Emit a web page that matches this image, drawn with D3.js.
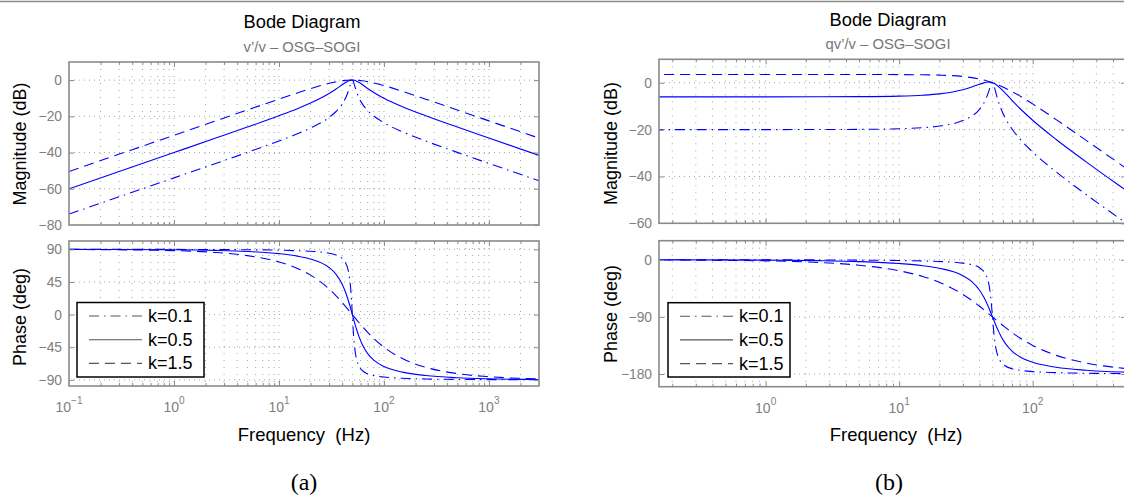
<!DOCTYPE html>
<html><head><meta charset="utf-8">
<script src="https://cdn.jsdelivr.net/npm/d3@7"></script>
<style>body{margin:0;background:#fff}svg{display:block;font-family:"Liberation Sans",Arial,Helvetica,sans-serif}</style>
</head><body><svg id="c" width="1124" height="499"></svg>
<script>
// ---- data ----
const freqHz = [0.1,1,2.5,5,10,15,20,30,35,40,43,45,47,48,49,50,51,52,53,55,58,62,70,80,100,150,250,500,1000,3000];
const kLabels = ["k=0.1","k=0.5","k=1.5"];

// (a) v'/v magnitude (dB)
const magA_k01 = [-73.98,-53.98,-46.00,-39.91,-33.63,-29.64,-26.45,-20.60,-17.33,-13.27,-10.07,-7.37,-4.04,-2.22,-0.66,0,-0.63,-2.08,-3.73,-6.67,-9.95,-12.97,-16.81,-19.83,-23.54,-28.53,-33.63,-39.91,-46.00,-55.56];
const magA_k05 = [-60.00,-40.00,-32.02,-25.94,-19.69,-15.78,-12.70,-7.44,-4.95,-2.58,-1.36,-0.71,-0.26,-0.11,-0.03,0,-0.03,-0.11,-0.23,-0.59,-1.32,-2.44,-4.60,-6.81,-10.00,-14.69,-19.69,-25.94,-32.02,-41.58];
const magA_k15 = [-50.46,-30.46,-22.50,-16.49,-10.51,-7.07,-4.71,-1.78,-0.92,-0.37,-0.17,-0.09,-0.03,-0.01,0,0,0,-0.01,-0.03,-0.07,-0.17,-0.35,-0.82,-1.53,-3.01,-6.19,-10.51,-16.49,-22.50,-32.04];
// (a) v'/v phase (deg)
const phaseA_k01 = [89.99,89.89,89.71,89.42,88.81,88.11,87.27,84.64,82.19,77.47,71.73,64.65,51.08,39.23,22.00,0,-21.61,-38.12,-49.38,-62.35,-71.44,-77.01,-81.70,-84.14,-86.19,-87.85,-88.81,-89.42,-89.71,-89.90];
const phaseA_k05 = [89.94,89.43,88.56,87.11,84.05,80.64,76.61,64.89,55.54,41.99,31.20,22.89,13.91,9.28,4.62,0,-4.53,-8.92,-13.13,-20.90,-30.79,-40.92,-53.90,-62.85,-71.57,-79.38,-84.05,-87.11,-88.56,-89.52];
const phaseA_k15 = [89.83,88.28,85.70,81.38,72.65,63.69,54.46,35.42,25.91,16.70,11.41,8.01,4.72,3.12,1.54,0,-1.51,-2.99,-4.44,-7.25,-11.23,-16.12,-24.57,-33.02,-45.00,-60.64,-72.65,-81.38,-85.70,-88.57];

// (b) qv'/v magnitude (dB)
const magB_k01 = [-20.00,-20.00,-19.98,-19.91,-19.65,-19.18,-18.50,-16.16,-14.23,-11.34,-8.76,-6.45,-3.50,-1.87,-0.48,0,-0.81,-2.42,-4.24,-7.50,-11.24,-14.83,-19.74,-23.91,-29.56,-38.07,-47.61,-59.91,-72.02,-91.12];
const magB_k05 = [-6.02,-6.02,-6.00,-5.94,-5.71,-5.32,-4.75,-3.01,-1.85,-0.64,-0.05,0.20,0.28,0.24,0.15,0,-0.20,-0.45,-0.74,-1.42,-2.61,-4.30,-7.52,-10.90,-16.02,-24.23,-33.67,-45.94,-58.04,-77.14];
const magB_k15 = [3.52,3.52,3.52,3.51,3.47,3.39,3.25,2.66,2.18,1.56,1.14,0.83,0.51,0.34,0.17,0,-0.18,-0.35,-0.53,-0.90,-1.46,-2.22,-3.75,-5.61,-9.03,-15.73,-24.49,-36.49,-48.52,-67.60];
// (b) qv'/v phase (deg)
const phaseB_k01 = [-0.01,-0.11,-0.29,-0.58,-1.19,-1.89,-2.73,-5.36,-7.81,-12.53,-18.27,-25.35,-38.92,-50.77,-68.00,-90,-111.61,-128.12,-139.38,-152.35,-161.44,-167.01,-171.70,-174.14,-176.19,-177.85,-178.81,-179.42,-179.71,-179.90];
const phaseB_k05 = [-0.06,-0.57,-1.44,-2.89,-5.95,-9.36,-13.39,-25.11,-34.46,-48.01,-58.80,-67.11,-76.09,-80.72,-85.38,-90,-94.53,-98.92,-103.13,-110.90,-120.79,-130.92,-143.90,-152.85,-161.57,-169.38,-174.05,-177.11,-178.56,-179.52];
const phaseB_k15 = [-0.17,-1.72,-4.30,-8.62,-17.35,-26.31,-35.54,-54.58,-64.09,-73.30,-78.59,-81.99,-85.28,-86.88,-88.46,-90,-91.51,-92.99,-94.44,-97.25,-101.23,-106.12,-114.57,-123.02,-135.00,-150.64,-162.65,-171.38,-175.70,-178.57];

// ticks
const xTicksA = [0.1,1,10,100,1000];
const xTicksB = [1,10,100];
const magTicksA = [0,-20,-40,-60,-80];
const phaseTicksA = [90,45,0,-45,-90];
const magTicksB = [0,-20,-40,-60];
const phaseTicksB = [0,-90,-180];

const titleText = "Bode Diagram";
const subtitleA = "v\u2019/v \u2013 OSG\u2013SOGI";
const subtitleB = "qv\u2019/v \u2013 OSG\u2013SOGI";
const xLabel = "Frequency\u00a0\u00a0(Hz)";
const captions = ["(a)","(b)"];

// ---- layout / style ----
const svg = d3.select("#c");
const FRAME = "#8a8a8a", TICKTXT = "#808080", BLUE = "#0000ff";
const dashes = ["10,5,1.5,5", null, "10,6"];

svg.append("line").attr("x1",0).attr("x2",1124).attr("y1",1.5).attr("y2",1.5)
  .attr("stroke","#8a8a8a").attr("stroke-width",1.5);

const fmtNum = v => (v < 0 ? "\u2212" + Math.abs(v) : String(v));
const expStr = v => { const e = Math.round(Math.log10(v)); return e < 0 ? "\u2212" + Math.abs(e) : String(e); };

let clipId = 0;
function subplot(g, x, xDomain, top, bottom, yDomain, yTicks, series, xTicks, showXLabels, legendBox) {
  const [x0, x1] = x.range();
  const y = d3.scaleLinear().domain(yDomain).range([bottom, top]);
  const id = "clip" + (clipId++);
  g.append("clipPath").attr("id", id).append("rect")
    .attr("x", x0).attr("y", top).attr("width", x1 - x0).attr("height", bottom - top);

  // grid
  const minor = [];
  for (let d = Math.floor(Math.log10(xDomain[0])); d <= Math.ceil(Math.log10(xDomain[1])); d++)
    for (let m = 1; m <= 9; m++) { const f = m * Math.pow(10, d); if (f > xDomain[0] && f < xDomain[1]) minor.push(f); }
  const grid = g.append("g").attr("clip-path", `url(#${id})`);
  grid.selectAll("line.v").data(minor).join("line")
    .attr("x1", d => x(d)).attr("x2", d => x(d)).attr("y1", top).attr("y2", bottom)
    .attr("stroke", "#9a9a9a").attr("stroke-width", 0.9).attr("stroke-dasharray", "1,6");
  grid.selectAll("line.h").data(yTicks).join("line")
    .attr("x1", x0).attr("x2", x1).attr("y1", d => y(d)).attr("y2", d => y(d))
    .attr("stroke", "#9a9a9a").attr("stroke-width", 0.9).attr("stroke-dasharray", "1,4");

  // curves
  const line = d3.line().x(d => x(d[0])).y(d => y(d[1])).curve(d3.curveMonotoneX);
  const cg = g.append("g").attr("clip-path", `url(#${id})`);
  series.forEach((s, i) => {
    cg.append("path").datum(freqHz.map((f, j) => [f, s[j]]))
      .attr("d", line).attr("fill", "none").attr("stroke", BLUE).attr("stroke-width", 1.1)
      .attr("stroke-dasharray", dashes[i]);
  });

  // ticks
  const styleAxis = a => { a.select(".domain").remove(); a.selectAll("line").attr("stroke", FRAME).attr("stroke-width", 1); };
  const majorX = minor.filter(f => Math.abs(Math.log10(f) - Math.round(Math.log10(f))) < 1e-9);
  const minorX = minor.filter(f => !majorX.includes(f));
  [[d3.axisBottom, bottom], [d3.axisTop, top]].forEach(([ax, yy]) => {
    g.append("g").attr("transform", `translate(0,${yy})`).call(ax(x).tickValues(minorX).tickSize(-3).tickFormat("")).call(styleAxis);
    g.append("g").attr("transform", `translate(0,${yy})`).call(ax(x).tickValues(majorX).tickSize(-5).tickFormat("")).call(styleAxis);
  });
  const yl = g.append("g").attr("transform", `translate(${x0},0)`)
    .call(d3.axisLeft(y).tickValues(yTicks).tickSize(-5).tickPadding(7).tickFormat(fmtNum)).call(styleAxis);
  yl.selectAll("text").attr("font-family", "Liberation Sans, Arial, sans-serif").attr("font-size", 13.8).attr("fill", TICKTXT);
  yl.selectAll(".tick").filter(d => Math.abs(y(d) - bottom) < 1 || Math.abs(y(d) - top) < 1).select("line").remove();
  g.append("g").attr("transform", `translate(${x1},0)`)
    .call(d3.axisRight(y).tickValues(yTicks).tickSize(-5).tickFormat("")).call(styleAxis);

  // frame
  g.append("rect").attr("x", x0).attr("y", top).attr("width", x1 - x0).attr("height", bottom - top)
    .attr("fill", "none").attr("stroke", FRAME).attr("stroke-width", 1.6);

  if (showXLabels) {
    const lab = g.append("g");
    xTicks.forEach(v => {
      const t = lab.append("text").attr("x", x(v)).attr("y", bottom + 26).attr("text-anchor", "middle")
        .attr("font-size", 14).attr("fill", TICKTXT);
      t.append("tspan").text("10");
      t.append("tspan").attr("dy", -8).attr("font-size", 10).text(expStr(v));
    });
  }

  if (legendBox) {
    const lg = g.append("g");
    lg.append("rect").attr("x", legendBox[0]).attr("y", legendBox[1]).attr("width", legendBox[2]).attr("height", legendBox[3])
      .attr("fill", "#fff").attr("stroke", "#000").attr("stroke-width", 1.5);
    kLabels.forEach((k, i) => {
      const by = legendBox[1] + 19.5 + i * 23.7;
      lg.append("line").attr("x1", legendBox[0] + 12).attr("x2", legendBox[0] + 65)
        .attr("y1", by - 6).attr("y2", by - 6).attr("stroke", "#555").attr("stroke-width", 1.1)
        .attr("stroke-dasharray", dashes[i]);
      lg.append("text").attr("x", legendBox[0] + 71).attr("y", by).attr("font-size", 18).attr("fill", "#000").text(k);
    });
  }
  return y;
}

function panel(cfg) {
  const g = svg.append("g");
  const x = d3.scaleLog().domain(cfg.xDomain).range([cfg.x0, cfg.x1]);
  subplot(g, x, cfg.xDomain, cfg.magTop, cfg.magBottom, cfg.magDomain, cfg.magTicks, cfg.mag, cfg.xTicks, false, null);
  subplot(g, x, cfg.xDomain, cfg.phTop, cfg.phBottom, cfg.phDomain, cfg.phTicks, cfg.phase, cfg.xTicks, true, cfg.legend);

  g.append("text").attr("x", cfg.titleX).attr("y", cfg.titleY).attr("text-anchor", "middle")
    .attr("font-size", 18.3).attr("fill", "#000").text(titleText);
  g.append("text").attr("x", cfg.titleX).attr("y", cfg.titleY + 23.3).attr("text-anchor", "middle")
    .attr("font-size", 14.8).attr("fill", "#777").text(cfg.subtitle);
  g.append("text").attr("transform", `translate(${cfg.ylabX},${cfg.magLabY}) rotate(-90)`).attr("text-anchor", "middle")
    .attr("font-size", 18).attr("fill", "#000").text("Magnitude (dB)");
  g.append("text").attr("transform", `translate(${cfg.ylabX},${cfg.phLabY}) rotate(-90)`).attr("text-anchor", "middle")
    .attr("font-size", 18).attr("fill", "#000").text("Phase (deg)");
  g.append("text").attr("x", cfg.xLabX).attr("y", 441).attr("text-anchor", "middle")
    .attr("font-size", 18.5).attr("fill", "#000").text(xLabel);
  g.append("text").attr("x", cfg.capX).attr("y", 490).attr("text-anchor", "middle")
    .attr("font-family", "Liberation Serif, Times New Roman, serif").attr("font-size", 24).attr("fill", "#000").text(cfg.caption);
}

panel({
  xDomain: [0.1, 3000], x0: 69, x1: 539, xTicks: xTicksA,
  magTop: 62, magBottom: 225, magDomain: [-80, 10], magTicks: magTicksA, mag: [magA_k01, magA_k05, magA_k15],
  phTop: 241, phBottom: 386, phDomain: [-98.5, 101.5], phTicks: phaseTicksA, phase: [phaseA_k01, phaseA_k05, phaseA_k15],
  legend: [77, 302.5, 127, 74.5],
  titleX: 302, titleY: 28.3, subtitle: subtitleA,
  ylabX: 26, magLabY: 144, phLabY: 317, xLabX: 304, capX: 304, caption: captions[0]
});
panel({
  xDomain: [0.159, 500], x0: 659, x1: 1126, xTicks: xTicksB,
  magTop: 59.3, magBottom: 223.3, magDomain: [-60, 10], magTicks: magTicksB, mag: [magB_k01, magB_k05, magB_k15],
  phTop: 240.7, phBottom: 386.7, phDomain: [-200, 30], phTicks: phaseTicksB, phase: [phaseB_k01, phaseB_k05, phaseB_k15],
  legend: [668, 302.7, 122, 74.3],
  titleX: 888, titleY: 26, subtitle: subtitleB,
  ylabX: 617, magLabY: 143.5, phLabY: 314, xLabX: 896, capX: 889, caption: captions[1]
});
</script></body></html>
